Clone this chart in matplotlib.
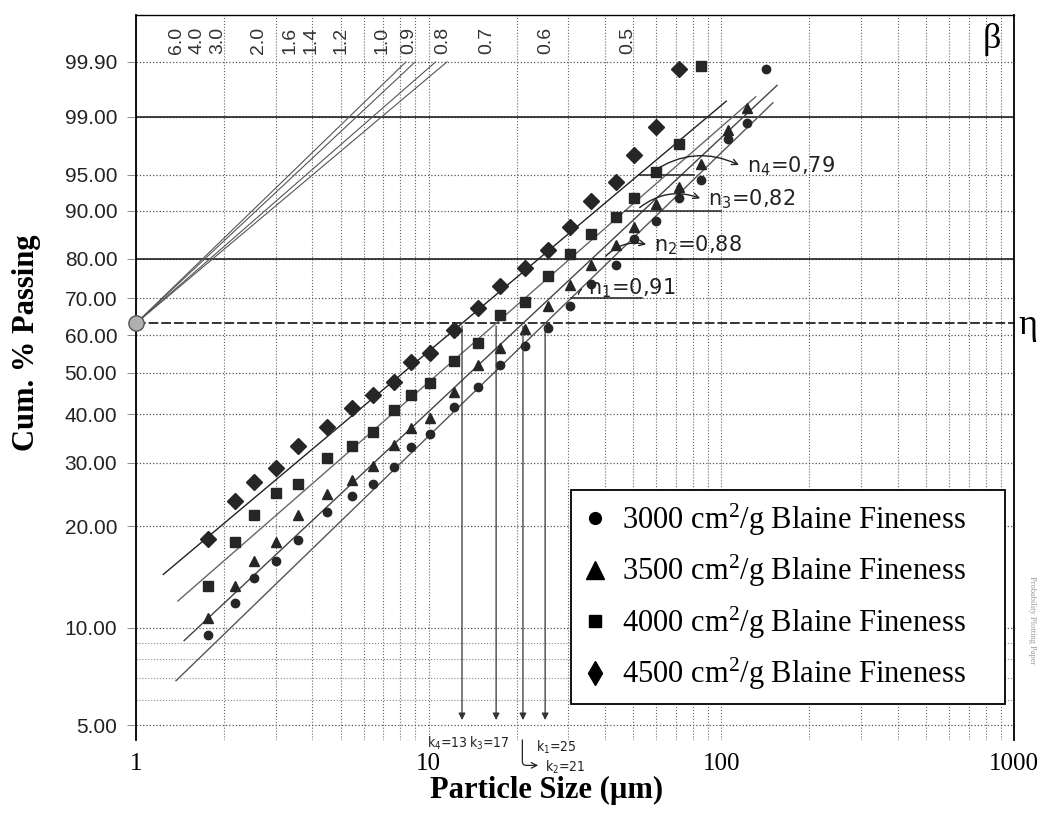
import numpy as np
import matplotlib.pyplot as plt
from matplotlib.lines import Line2D
from matplotlib.ticker import NullFormatter, FixedLocator

plt.rcParams['font.family'] = ['Liberation Serif', 'DejaVu Serif']
plt.rcParams['mathtext.default'] = 'regular'

# particle sizes (um) and cumulative % passing for each Blaine fineness
size = [1.76, 2.18, 2.54, 3.02, 3.58, 4.51, 5.47, 6.45, 7.64, 8.70, 10.1, 12.2, 14.7,
        17.5, 21.3, 25.5, 30.3, 36.0, 43.6, 50.3, 60.0, 71.6, 85.1, 105, 122, 142]
pass_3000 = [9.5, 11.9, 14.1, 15.8, 18.2, 22.0, 24.3, 26.3, 29.3, 33.1, 35.6, 41.7, 46.5,
             52.0, 57.0, 62.0, 67.8, 73.8, 78.5, 84.5, 88.1, 92.0, 94.4, 98.0, 98.76, 99.86]
pass_3500 = [10.7, 13.4, 15.8, 18.0, 21.5, 24.6, 26.9, 29.4, 33.4, 36.9, 39.1, 45.3, 52.0,
             56.4, 61.7, 67.8, 73.4, 78.6, 83.3, 87.0, 91.1, 93.5, 96.1, 98.46, 99.27]
pass_4000 = [13.4, 18.0, 21.5, 24.8, 26.3, 30.8, 33.2, 36.1, 40.9, 44.5, 47.4, 53.1, 57.9,
             65.4, 69.1, 75.8, 81.1, 85.5, 88.9, 92.0, 95.3, 97.7, 99.88]
pass_4500 = [18.4, 23.5, 26.6, 29.0, 33.2, 37.1, 41.3, 44.5, 47.7, 52.9, 55.1, 61.4, 67.3,
             73.2, 77.9, 82.1, 87.0, 91.5, 94.2, 96.9, 98.6, 99.86]

labels = ['3000 cm$^2$/g Blaine Fineness', '3500 cm$^2$/g Blaine Fineness',
          '4000 cm$^2$/g Blaine Fineness', '4500 cm$^2$/g Blaine Fineness']

# RRSB fit parameters
k_vals = [25, 21, 17, 13]
n_vals = [0.91, 0.88, 0.82, 0.79]
fit_start = [1.37, 1.46, 1.39, 1.24]
fit_end = [150, 155, 131, 104]

beta = [6.0, 4.0, 3.0, 2.0, 1.6, 1.4, 1.2, 1.0, 0.9, 0.8, 0.7, 0.6, 0.5]
y_ticks = [5, 10, 20, 30, 40, 50, 60, 70, 80, 90, 95, 99, 99.9]


def fwd(p):
    p = np.asarray(p, dtype=float)
    with np.errstate(all='ignore'):
        return np.log10(-np.log(1 - p / 100))


def inv(y):
    y = np.asarray(y, dtype=float)
    return 100 * (1 - np.exp(-10 ** y))


def rrsb(x, k, n):
    return 100 * (1 - np.exp(-(np.asarray(x) / k) ** n))


def x_at(p, k, n):
    return k * (-np.log(1 - p / 100)) ** (1 / n)


fig = plt.figure(figsize=(10.45, 8.27), dpi=100)
ax = fig.add_axes([136 / 1045, 87 / 827, 878 / 1045, 725 / 827])
ax.set_xscale('log')
ax.set_yscale('function', functions=(fwd, inv))
ax.set_xlim(1, 1000)
ax.set_ylim(inv(-1.338), inv(0.990))

# grid of the probability paper
ax.yaxis.set_major_locator(FixedLocator(y_ticks))
ax.yaxis.set_minor_locator(FixedLocator([6, 7, 8, 9]))
ax.set_yticklabels(['%.2f' % v for v in y_ticks])
ax.yaxis.set_minor_formatter(NullFormatter())
ax.set_xticks([1, 10, 100, 1000])
ax.set_xticklabels(['1', '10', '100', '1000'])
ax.xaxis.set_minor_formatter(NullFormatter())
ax.grid(which='both', axis='x', ls=':', color='#666666', lw=0.8)
ax.grid(which='major', axis='y', ls=':', color='#555555', lw=0.9)
ax.grid(which='minor', axis='y', ls=':', color='#888888', lw=0.8)
for p in [99, 80]:
    ax.axhline(p, color='#222222', lw=1.2)
ax.axhline(inv(0.0), color='#333333', lw=1.4, ls=(0, (5, 1.5)))

ax.tick_params(axis='x', which='both', length=0, pad=9, labelsize=18)
ax.tick_params(axis='y', which='major', length=6.5, width=0.6, color='#777777',
               pad=7, labelsize=15, labelcolor='#222222',
               labelfontfamily='Liberation Sans')
ax.tick_params(axis='y', which='minor', length=0)
ax.spines['bottom'].set_visible(False)
for s in ['left', 'right']:
    ax.spines[s].set_linewidth(1.3)
ax.spines['top'].set_linewidth(1.0)

# pole lines and beta scale
y_top = float(fwd(99.9))
for n in n_vals:
    xs = np.geomspace(1, 10 ** (y_top / n), 100)
    ax.plot(xs, rrsb(xs, 1, n), color='#555555', lw=0.8)
ax.plot([1], [inv(0.0)], marker='o', ms=11, mfc='#b0b0b0', mec='#555555',
        clip_on=False, zorder=6)
for b in beta:
    ax.text(10 ** (y_top / b), 0.9655, '%.1f' % b, transform=ax.get_xaxis_transform(),
            rotation=90, ha='center', va='center', fontsize=14,
            family='Liberation Sans', color='#333333')

# fitted lines
fit_colors = ['#555555', '#444444', '#666666', '#222222']
for k, n, x0, x1, c in zip(k_vals, n_vals, fit_start, fit_end, fit_colors):
    xs = np.geomspace(x0, x1, 200)
    ax.plot(xs, rrsb(xs, k, n), color=c, lw=1.0)

# measured points
mk_color = '#262626'
ax.plot(size[:len(pass_3000)], pass_3000, ls='none', marker='o', ms=6, color=mk_color)
ax.plot(size[:len(pass_3500)], pass_3500, ls='none', marker='^', ms=7.5, color=mk_color)
ax.plot(size[:len(pass_4000)], pass_4000, ls='none', marker='s', ms=6.5, color=mk_color)
ax.plot(size[:len(pass_4500)], pass_4500, ls='none', marker='D', ms=8, color=mk_color)

# slope marks
hand = ['DejaVu Sans']
base_p = [70, 80, 90, 95]
base_end = [53.5, 73.3, 99.7, 80.6]
text_x = [35.0, 58.9, 90, 122]
text_p = [72.7, 83.2, 91.8, 95.9]
for i in range(4):
    x0 = x_at(base_p[i], k_vals[i], n_vals[i])
    ax.plot([x0, base_end[i]], [base_p[i], base_p[i]], color='#222222', lw=1.1)
    ax.text(text_x[i], text_p[i], 'n$_%d$=%s' % (i + 1, ('%.2f' % n_vals[i]).replace('.', ',')),
            family=hand, fontsize=15, color='#222222', ha='left', va='center')
    if i == 0:
        ax.annotate('', xy=(text_x[i] * 0.97, text_p[i]), xytext=(x0 * 1.06, base_p[i] + 0.3),
                    arrowprops=dict(arrowstyle='-', color='#222222', lw=1.0,
                                    connectionstyle='arc3,rad=-0.4'))
    else:
        ax.annotate('', xy=(text_x[i] * 0.96, text_p[i]),
                    xytext=(x0 * 1.1, base_p[i] + 0.2),
                    arrowprops=dict(arrowstyle='->', color='#222222', lw=1.0,
                                    connectionstyle='arc3,rad=-0.3'))

# characteristic sizes
for k in k_vals:
    ax.annotate('', xy=(k, 5.08), xytext=(k, inv(0.0)),
                arrowprops=dict(arrowstyle='-|>', color='#333333', lw=0.9,
                                mutation_scale=10))
xt = ax.get_xaxis_transform()
k_font = dict(family='DejaVu Sans', stretch='condensed', fontsize=10,
              ha='center', va='center', color='#222222')
ax.text(11.6, -0.005, 'k$_4$=13', transform=xt, **k_font)
ax.text(16.1, -0.005, 'k$_3$=17', transform=xt, **k_font)
ax.text(27.4, -0.010, 'k$_1$=25', transform=xt, **k_font)
ax.text(29.4, -0.037, 'k$_2$=21', transform=xt, **k_font)
ax.annotate('', xy=(24.2, -0.035), xycoords=xt, xytext=(20.9, 0.004), textcoords=xt,
            arrowprops=dict(arrowstyle='->', color='#222222', lw=0.9,
                            connectionstyle='angle,angleA=-90,angleB=180,rad=4'))

# legend
handles = [Line2D([], [], ls='none', marker='o', ms=8.5, color='black'),
           Line2D([], [], ls='none', marker='^', ms=13, color='black'),
           Line2D([], [], ls='none', marker='s', ms=8, color='black'),
           Line2D([], [], ls='none', marker='d', ms=12, color='black')]
leg = ax.legend(handles, labels, loc='lower left',
                bbox_to_anchor=(0.4954, 0.0497, 0.494, 0.292), mode='expand',
                fontsize=22, frameon=True, fancybox=False, edgecolor='black',
                framealpha=1, borderpad=0.38, labelspacing=0.5, handlelength=0.8,
                handletextpad=0.5, borderaxespad=0)
leg.get_frame().set_linewidth(1.3)
leg.set_zorder(7)

fig.text(547 / 1045, 1 - 790 / 827, 'Particle Size (\u00b5m)', fontsize=22,
         fontweight='bold', ha='center', va='center')
fig.text(27 / 1045, 1 - 343 / 827, 'Cum. % Passing', rotation=90, fontsize=22,
         fontweight='bold', ha='center', va='center')
fig.text(992 / 1045, 1 - 40 / 827, '\u03b2', fontsize=26, ha='center', va='center')
fig.text(1028 / 1045, 1 - 326 / 827, '\u03b7', fontsize=26, ha='center', va='center')
fig.text(1032 / 1045, 1 - 620 / 827, 'Probability Plotting Paper', rotation=270,
         fontsize=6, color='#999999', ha='center', va='center')

fig.savefig('out.png', dpi=100, facecolor='white')
